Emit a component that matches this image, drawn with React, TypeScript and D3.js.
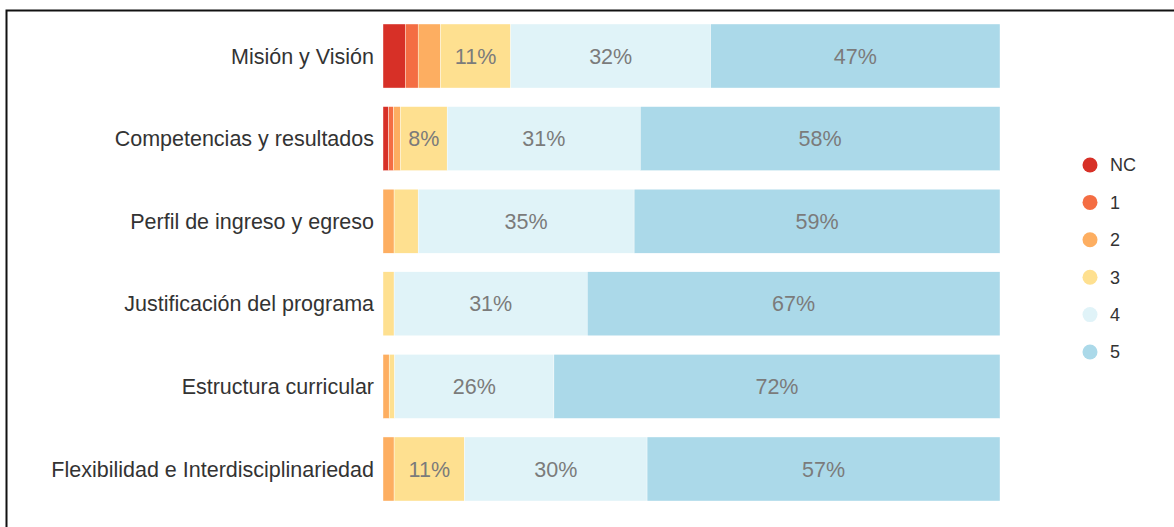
import React from "react";
import * as d3 from "d3";

const categories = [
  "Misión y Visión",
  "Competencias y resultados",
  "Perfil de ingreso y egreso",
  "Justificación del programa",
  "Estructura curricular",
  "Flexibilidad e Interdisciplinariedad",
];
const seriesKeys = ["NC", "1", "2", "3", "4", "5"];
const seriesColors = ["#d73027", "#f46d43", "#fdae61", "#fee090", "#e0f3f8", "#abd9e9"];
// percentages per category, in order NC,1,2,3,4,5
const valNC = [3.6, 0.9, 0, 0, 0, 0];
const val1 = [2.1, 0.8, 0, 0, 0, 0];
const val2 = [3.6, 1.1, 1.8, 0, 1.0, 1.8];
const val3 = [11.4, 7.6, 3.9, 1.8, 0.9, 11.4];
const val4 = [32.4, 31.3, 35.0, 31.3, 25.8, 29.6];
const val5 = [46.9, 58.3, 59.3, 66.9, 72.3, 57.2];

const W = 1174;
const H = 527;

export default function App() {
  const series = [valNC, val1, val2, val3, val4, val5];
  const rows = categories.map((c, i) => {
    const r: any = { cat: c };
    seriesKeys.forEach((k, j) => (r[k] = series[j][i]));
    return r;
  });
  const stacked = d3.stack().keys(seriesKeys)(rows);
  const x = d3.scaleLinear().domain([0, 100]).range([383, 1000]);
  const y = d3.scaleBand().domain(categories).range([24, 501]).paddingInner(0.225).paddingOuter(0);

  return (
    <svg width={W} height={H} style={{ position: "absolute", left: 0, top: 0 }} fontFamily="'Liberation Sans', Arial, sans-serif">
      <rect x={0} y={0} width={W} height={H} fill="#fff" />
      <rect x={6.5} y={10.5} width={1300} height={700} fill="none" stroke="#111" strokeWidth={2} />
      {stacked.map((s, j) => (
        <g key={s.key}>
          {s.map((d, i) => {
            const w = x(d[1]) - x(d[0]);
            if (w <= 0) return null;
            return (
              <rect
                key={i}
                x={x(d[0])}
                y={y(categories[i])}
                width={w}
                height={y.bandwidth()}
                fill={seriesColors[j]}
                stroke="#fff"
                strokeWidth={0.4}
              />
            );
          })}
        </g>
      ))}
      {stacked.map((s, j) => (
        <g key={"l" + s.key}>
          {s.map((d, i) => {
            const v = d[1] - d[0];
            if (v < 5) return null;
            return (
              <text
                key={i}
                x={(x(d[0]) + x(d[1])) / 2}
                y={y(categories[i])! + y.bandwidth() / 2}
                dy="0.35em"
                textAnchor="middle"
                fontSize={21.5}
                fill="#7b7b7b"
              >
                {Math.round(v)}%
              </text>
            );
          })}
        </g>
      ))}
      {categories.map((c) => (
        <text
          key={c}
          x={374}
          y={y(c)! + y.bandwidth() / 2}
          dy="0.35em"
          textAnchor="end"
          fontSize={21.5}
          fill="#333"
        >
          {c}
        </text>
      ))}
      {seriesKeys.map((k, j) => (
        <g key={k} transform={`translate(1090,${165 + j * 37.4})`}>
          <circle r={7.5} fill={seriesColors[j]} />
          <text x={20} dy="0.35em" fontSize={18} fill="#333">
            {k}
          </text>
        </g>
      ))}
    </svg>
  );
}
